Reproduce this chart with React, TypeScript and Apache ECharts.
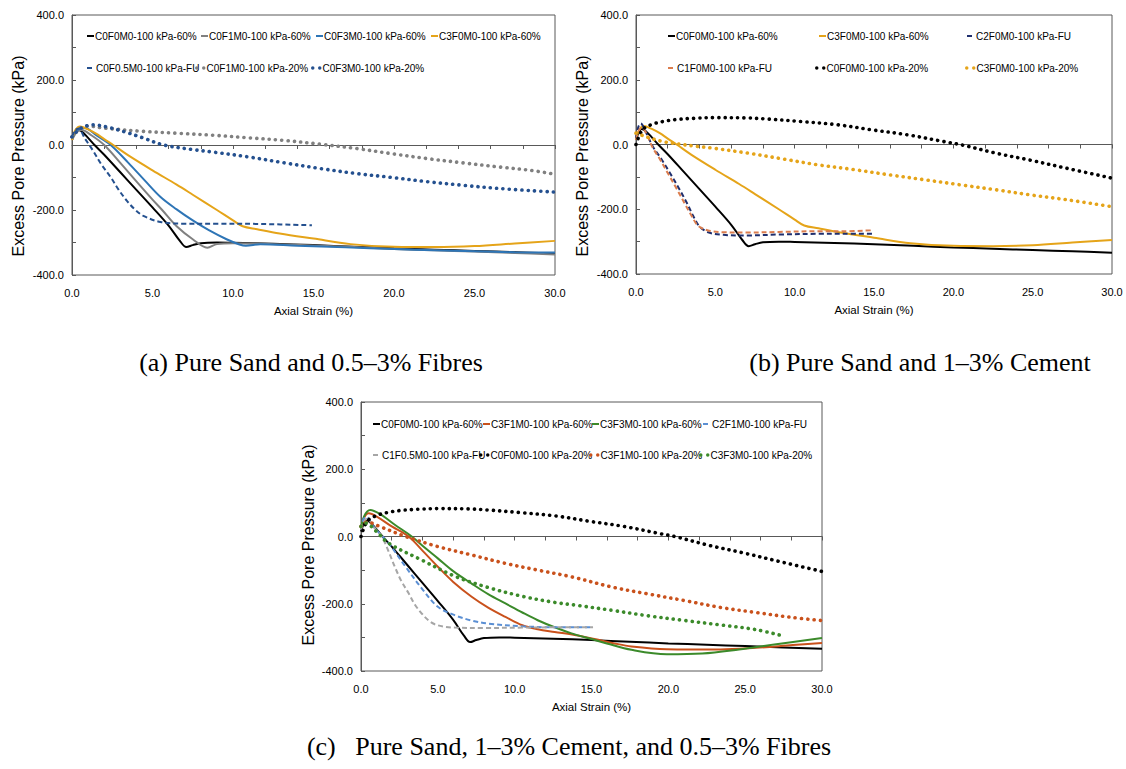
import React, { useEffect, useRef } from "react";
import * as echarts from "echarts";

// ---------- data (axial strain %, excess pore pressure kPa) ----------
const xTicks = [0, 5, 10, 15, 20, 25, 30];
const yTicks = [-400, -200, 0, 200, 400];

// shared series
const c0f0m0_60 = [[0,15],[0.15,35],[0.35,48],[0.6,42],[1.0,22],[1.4,0],[2,-30],[3,-84],[4,-138],[5,-192],[6,-248],[6.7,-295],[7.1,-314],[7.5,-308],[8,-302],[9,-300],[10,-301],[12.5,-304],[15,-308],[17.5,-313],[20,-318],[22.5,-322],[25,-326],[27.5,-330],[30,-334]];
const c3f0m0_60 = [[0,15],[0.2,45],[0.5,57],[1,48],[1.5,35],[2,18],[2.56,0],[3.5,-32],[5,-78],[6.5,-122],[7.5,-153],[9,-200],[10,-232],[10.6,-250],[11.5,-259],[12.9,-272],[15,-288],[17.3,-305],[20,-313],[22.5,-314],[25,-311],[27.5,-303],[30,-295]];
const c0f0m0_20 = [[0,0],[0.4,45],[1,62],[1.7,71],[2.5,77],[3.7,81],[5,83],[7,82],[8.2,79],[10.4,71],[12.7,61],[14.9,45],[17.1,30],[19.4,9],[20.5,-1],[22.7,-27],[24.9,-49],[27.1,-73],[30,-104]];

// panel (a)
const c0f1m0_60 = [[0,15],[0.3,40],[0.6,46],[1.2,30],[2.0,0],[3,-55],[4,-112],[5,-168],[5.6,-200],[6.5,-250],[7.5,-290],[8.4,-316],[9,-305],[10,-302],[12.5,-305],[15,-309],[17.5,-314],[20,-320],[22.5,-324],[25,-328],[27.5,-332],[30,-337]];
const c0f3m0_60 = [[0,20],[0.3,45],[0.8,52],[1.5,30],[2.4,0],[3.5,-55],[4.5,-108],[5.5,-160],[6.5,-198],[7.5,-232],[8.5,-262],[9.6,-290],[10.4,-306],[10.8,-310],[11.7,-305],[14,-310],[17,-315],[20,-320],[22.5,-324],[25,-327],[27.5,-330],[30,-331]];
const c0f05m0_fu = [[0,25],[0.2,45],[0.4,51],[0.8,20],[1.3,-17],[1.8,-58],[2.4,-99],[2.9,-138],[3.4,-171],[3.9,-198],[4.4,-217],[5.5,-237],[7,-242],[9,-242],[11.7,-243],[14.9,-247]];
const c0f1m0_20 = [[0,25],[0.5,50],[1,58],[2,52],[4.4,42],[6.6,36],[8.8,30],[11,22],[13.2,14],[15.5,2],[17.7,-11],[19.9,-27],[22.1,-42],[24.3,-55],[26.6,-68],[28.5,-78],[30,-90]];
const c0f3m0_20 = [[0,25],[0.5,50],[1.3,62],[2.2,55],[3.3,40],[4.4,22],[5.7,0],[7.5,-14],[8.8,-22],[11,-37],[13.2,-55],[15.5,-73],[17.7,-88],[19.9,-100],[22.1,-113],[24.3,-124],[26.6,-134],[30,-145]];

// panel (b)
const c2f0m0_fu = [[0,20],[0.15,55],[0.3,65],[0.6,40],[1.07,-7],[1.6,-45],[2.14,-88],[2.7,-135],[3.2,-180],[3.6,-220],[4.0,-253],[4.6,-272],[5.5,-279],[7,-281],[9,-278],[11.6,-276],[13,-276],[14.9,-276]];
const c1f0m0_fu = [[0,15],[0.2,45],[0.35,52],[0.7,30],[1.0,-5],[1.5,-45],[2.0,-88],[2.6,-140],[3.1,-185],[3.5,-220],[3.9,-250],[4.5,-265],[5.5,-271],[7,-272],[9,-270],[11.6,-268],[13,-268],[14.9,-265]];
const c3f0m0_20 = [[0,35],[0.4,28],[1,18],[1.8,8],[2.6,2],[3.7,-5],[4.8,-11],[7.1,-27],[9.3,-45],[11.5,-63],[13.8,-78],[16,-94],[18.2,-109],[20.5,-125],[22.7,-140],[24.9,-156],[27.2,-171],[30,-192]];

// panel (c)
const c3f1m0_60 = [[0,20],[0.2,55],[0.5,69],[1,60],[2,30],[3.1,0],[4,-42],[5,-90],[6,-135],[7.2,-179],[8.3,-212],[9.4,-239],[10.5,-264],[11.5,-276],[12.6,-284],[13.9,-293],[15.2,-305],[16.5,-318],[17.6,-327],[19.9,-335],[23.4,-336],[25.7,-331],[28.1,-323],[30,-317]];
const c3f3m0_60 = [[0,20],[0.2,60],[0.6,79],[1.2,68],[2.2,35],[3.3,0],[4.2,-35],[5,-65],[6,-103],[7.2,-140],[8.3,-172],[9.4,-199],[10.5,-226],[11.5,-249],[12.6,-270],[13.7,-288],[15,-305],[16,-318],[17.6,-337],[19.9,-350],[22.2,-348],[24.6,-336],[26.9,-321],[30,-302]];
const c2f1m0_fu = [[0,20],[0.15,50],[0.35,58],[0.8,30],[1.8,-20],[2.9,-90],[3.95,-154],[5,-209],[6.1,-234],[7.2,-250],[8.3,-259],[10.5,-267],[12.5,-270],[15.1,-270]];
const c1f05m0_fu = [[0,20],[0.2,45],[0.4,53],[0.8,30],[1.35,0],[1.8,-45],[2.2,-90],[2.6,-130],[3.1,-169],[3.5,-202],[3.95,-229],[4.4,-250],[4.8,-261],[5.4,-268],[6.1,-271],[8,-272],[10.5,-271],[13,-270],[15.1,-270]];
const c3f1m0_20 = [[0,30],[0.4,43],[1.2,30],[2.9,0],[5,-30],[7.2,-55],[9.4,-80],[11.5,-100],[13.7,-120],[16.4,-151],[18.7,-171],[21.1,-191],[23.4,-211],[25.7,-226],[28.1,-241],[30,-250]];
const c3f3m0_20 = [[0,30],[0.3,40],[1,15],[1.8,-20],[3.95,-70],[6.1,-118],[8.3,-152],[10.5,-178],[12.6,-196],[14.1,-205],[16.4,-220],[18.7,-236],[21.1,-250],[23.4,-263],[25.7,-277],[27.4,-295]];

const captions = [
  "(a) Pure Sand and 0.5\u20133% Fibres",
  "(b) Pure Sand and 1\u20133% Cement",
  "(c)   Pure Sand, 1\u20133% Cement, and 0.5\u20133% Fibres",
];
// ---------------------------------------------------------------------

const SANS = "'Liberation Sans', Arial, sans-serif";
const SERIF = "'Liberation Serif', 'Times New Roman', serif";

type St = "solid" | "dash" | "dot";
const lineStyle = (color: string, st: St) => {
  if (st === "solid") return { color, width: 2, type: "solid" as any };
  if (st === "dash") return { color, width: 2, type: [5, 3] as any };
  return { color, width: 3.6, type: [0.1, 6.2] as any, cap: "round" as any };
};

const DOT_ICON = "path://M0,1.5a1.5,1.5 0 1,0 3,0a1.5,1.5 0 1,0 -3,0M6,1.5a1.5,1.5 0 1,0 3,0a1.5,1.5 0 1,0 -3,0";

const grids = [
  { left: 72, top: 15, width: 483, height: 260 },
  { left: 636, top: 15, width: 476, height: 259 },
  { left: 361, top: 402, width: 461, height: 269 },
];

export default function App() {
  const ref = useRef<HTMLDivElement>(null);
  useEffect(() => {
    if (!ref.current) return;
    const chart = echarts.init(ref.current, null, { renderer: "svg" });

    const xAxes: any[] = [];
    const yAxes: any[] = [];
    grids.forEach((_, gi) => {
      xAxes.push({
        type: "value", gridIndex: gi, min: xTicks[0], max: xTicks[xTicks.length - 1], interval: xTicks[1] - xTicks[0],
        axisLine: { show: false, onZero: false }, axisTick: { show: false }, splitLine: { show: false },
        axisLabel: { formatter: (v: number) => v.toFixed(1), color: "#000", fontFamily: SANS, fontSize: 11, margin: 12 },
        name: "Axial Strain (%)", nameLocation: "middle", nameGap: 30,
        nameTextStyle: { color: "#000", fontFamily: SANS, fontSize: 11.5 },
      });
      xAxes.push({
        type: "value", gridIndex: gi, min: 0, max: 30, interval: 2,
        axisLine: { show: true, onZero: true, lineStyle: { color: "#595959", width: 1 } },
        axisTick: { show: true, inside: true, length: 4, lineStyle: { color: "#595959" } },
        axisLabel: { show: false }, splitLine: { show: false },
      });
      yAxes.push({
        type: "value", gridIndex: gi, min: yTicks[0], max: yTicks[yTicks.length - 1], interval: 100,
        axisLine: { show: true, lineStyle: { color: "#595959" } },
        axisTick: { show: true, inside: true, length: 4, lineStyle: { color: "#595959" } },
        splitLine: { show: false },
        axisLabel: {
          formatter: (v: number) => (yTicks.includes(v) ? v.toFixed(1) : ""),
          color: "#000", fontFamily: SANS, fontSize: 11, margin: 8,
        },
      });
    });

    const styleOf: Record<string, St> = {};
    const mk = (name: string, data: number[][], color: string, st: St, gi: number) => {
      styleOf[name] = st;
      return {
        type: "line", name, data, xAxisIndex: gi * 2, yAxisIndex: gi,
        showSymbol: false, symbol: "none", smooth: 0.35,
        lineStyle: lineStyle(color, st), itemStyle: { color }, silent: true,
      };
    };

    const BLACK = "#000000", GOLD = "#E5A419", GRAY = "#808080", BLUE = "#2E75B6",
      DBLUE = "#24508F", NAVY = "#1F2F6E", SALMON = "#DB7D4E", RUST = "#C9511C",
      GREEN = "#3B8A2A", LBLUE = "#5B8FD3", LGRAY = "#A6A6A6";

    const series = [
      // (a)
      mk("C0F0M0-100 kPa-60%", c0f0m0_60, BLACK, "solid", 0),
      mk("C0F1M0-100 kPa-60%", c0f1m0_60, GRAY, "solid", 0),
      mk("C0F3M0-100 kPa-60%", c0f3m0_60, BLUE, "solid", 0),
      mk("C3F0M0-100 kPa-60%", c3f0m0_60, GOLD, "solid", 0),
      mk("C0F0.5M0-100 kPa-FU", c0f05m0_fu, DBLUE, "dash", 0),
      mk("C0F1M0-100 kPa-20%", c0f1m0_20, GRAY, "dot", 0),
      mk("C0F3M0-100 kPa-20%", c0f3m0_20, DBLUE, "dot", 0),
      // (b)
      mk("C0F0M0-100 kPa-60%", c0f0m0_60, BLACK, "solid", 1),
      mk("C3F0M0-100 kPa-60%", c3f0m0_60, GOLD, "solid", 1),
      mk("C2F0M0-100 kPa-FU", c2f0m0_fu, NAVY, "dash", 1),
      mk("C1F0M0-100 kPa-FU", c1f0m0_fu, SALMON, "dash", 1),
      mk("C0F0M0-100 kPa-20%", c0f0m0_20, BLACK, "dot", 1),
      mk("C3F0M0-100 kPa-20%", c3f0m0_20, GOLD, "dot", 1),
      // (c)
      mk("C0F0M0-100 kPa-60%", c0f0m0_60, BLACK, "solid", 2),
      mk("C3F1M0-100 kPa-60%", c3f1m0_60, RUST, "solid", 2),
      mk("C3F3M0-100 kPa-60%", c3f3m0_60, GREEN, "solid", 2),
      mk("C2F1M0-100 kPa-FU", c2f1m0_fu, LBLUE, "dash", 2),
      mk("C1F0.5M0-100 kPa-FU", c1f05m0_fu, LGRAY, "dash", 2),
      mk("C0F0M0-100 kPa-20%", c0f0m0_20, BLACK, "dot", 2),
      mk("C3F1M0-100 kPa-20%", c3f1m0_20, RUST, "dot", 2),
      mk("C3F3M0-100 kPa-20%", c3f3m0_20, GREEN, "dot", 2),
    ];

    // legend layout: [name, left, centerY]
    const legendItems: [string, number, number][] = [
      ["C0F0M0-100 kPa-60%", 87, 38], ["C0F1M0-100 kPa-60%", 201, 38], ["C0F3M0-100 kPa-60%", 316, 38], ["C3F0M0-100 kPa-60%", 431, 38],
      ["C0F0.5M0-100 kPa-FU", 87, 70], ["C0F1M0-100 kPa-20%", 195, 70], ["C0F3M0-100 kPa-20%", 311, 70],
      ["C0F0M0-100 kPa-60%", 668, 38], ["C3F0M0-100 kPa-60%", 819, 38], ["C2F0M0-100 kPa-FU", 967, 38],
      ["C1F0M0-100 kPa-FU", 668, 70], ["C0F0M0-100 kPa-20%", 815, 70], ["C3F0M0-100 kPa-20%", 965, 70],
      ["C0F0M0-100 kPa-60%", 373, 426], ["C3F1M0-100 kPa-60%", 483, 426], ["C3F3M0-100 kPa-60%", 592, 426], ["C2F1M0-100 kPa-FU", 703, 426],
      ["C1F0.5M0-100 kPa-FU", 373, 457], ["C0F0M0-100 kPa-20%", 479, 457], ["C3F1M0-100 kPa-20%", 589, 457], ["C3F3M0-100 kPa-20%", 699, 457],
    ];
    const legends = legendItems.map(([name, left, cy]) => {
      const st = styleOf[name];
      const icon = st === "dot" ? DOT_ICON : "rect";
      const itemWidth = st === "dot" ? 10.5 : st === "dash" ? 5 : 7;
      const itemHeight = st === "dot" ? 3.5 : 2;
      return {
        show: true, data: [{ name, icon }], left, top: cy - 7, padding: 0,
        itemWidth, itemHeight, selectedMode: false,
        itemStyle: { borderWidth: 0 },
        textStyle: { color: "#000", fontFamily: SANS, fontSize: 10, padding: [0, 0, 0, st === "dash" ? -1 : -4] },
      };
    });

    const yTitle = (x: number, y: number) => ({
      type: "text", x, y, rotation: Math.PI / 2,
      style: { text: "Excess Pore Pressure (kPa)", fill: "#000", font: `16px ${SANS}`, align: "center", verticalAlign: "middle" },
    });
    const caption = (text: string, x: number, y: number) => ({
      type: "text", x, y,
      style: { text, fill: "#000", font: `26px ${SERIF}`, align: "center", verticalAlign: "middle" },
    });

    chart.setOption({
      animation: false,
      backgroundColor: "#ffffff",
      grid: grids.map((g) => ({ ...g, show: true, borderColor: "#595959", borderWidth: 1, backgroundColor: "transparent" })),
      xAxis: xAxes,
      yAxis: yAxes,
      legend: legends,
      series,
      graphic: [
        yTitle(18, 156), yTitle(582, 156), yTitle(308, 545),
        caption(captions[0], 311, 362), caption(captions[1], 920, 362), caption(captions[2], 569, 746),
      ],
    });
    return () => chart.dispose();
  }, []);
  return <div ref={ref} style={{ position: "absolute", left: 0, top: 0, width: 1126, height: 769 }} />;
}
